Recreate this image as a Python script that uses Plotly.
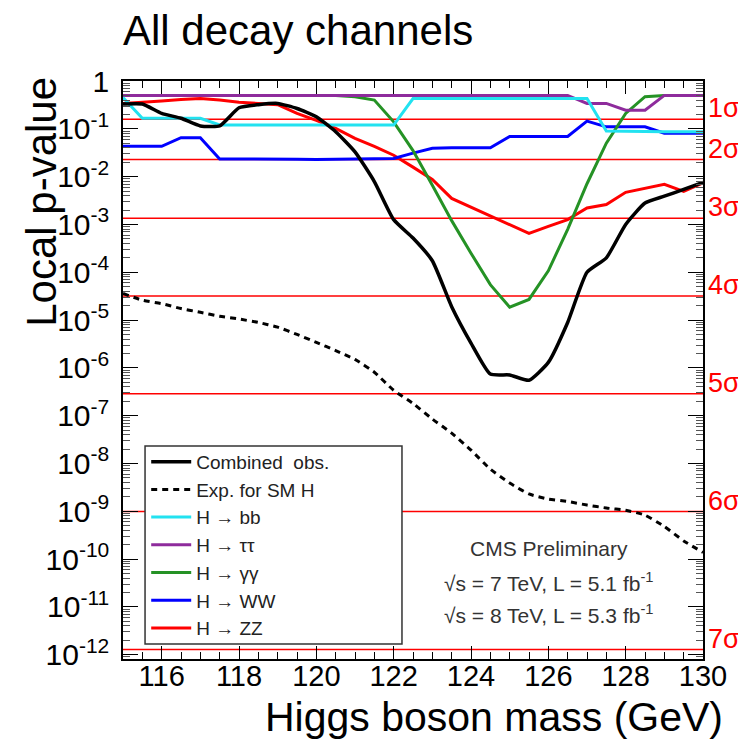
import plotly.graph_objects as go
import numpy as np

mass = [115.0, 115.5, 116.0, 116.5, 117.0, 117.5, 118.0, 118.5, 119.0, 119.5,
        120.0, 120.5, 121.0, 121.5, 122.0, 122.5, 123.0, 123.5, 124.0, 124.5,
        125.0, 125.5, 126.0, 126.5, 127.0, 127.5, 128.0, 128.5, 129.0, 129.5, 130.0]

p_comb = [0.33, 0.33, 0.21, 0.166, 0.115, 0.115, 0.275, 0.32, 0.34, 0.266,
          0.178, 0.087, 0.033, 7.9e-3, 1.26e-3, 5.2e-4, 1.74e-4, 1.9e-5, 3.3e-6, 7.4e-7,
          7.1e-7, 5.5e-7, 1.3e-6, 8.9e-6, 1.0e-4, 2.0e-4, 1.0e-3, 2.8e-3, 3.9e-3, 5.4e-3, 7.6e-3]

p_exp = [3.6e-5, 2.6e-5, 2.2e-5, 1.74e-5, 1.45e-5, 1.2e-5, 1.05e-5, 8.9e-6, 7.1e-6, 5.0e-6,
         3.4e-6, 2.3e-6, 1.5e-6, 8.1e-7, 3.4e-7, 1.8e-7, 8.5e-8, 4.3e-8, 1.9e-8, 7.6e-9,
         3.9e-9, 2.3e-9, 1.8e-9, 1.6e-9, 1.35e-9, 1.17e-9, 1.05e-9, 8.3e-10, 4.8e-10, 2.4e-10, 1.38e-10]

p_bb = [0.45, 0.166, 0.166, 0.166, 0.166, 0.12, 0.12, 0.12, 0.12, 0.12,
        0.12, 0.12, 0.12, 0.12, 0.12, 0.43, 0.43, 0.43, 0.43, 0.43,
        0.43, 0.43, 0.43, 0.43, 0.43, 0.09, 0.088, 0.088, 0.087, 0.087, 0.087]

p_tautau = [0.5, 0.5, 0.5, 0.5, 0.5, 0.5, 0.5, 0.5, 0.5, 0.5,
            0.5, 0.5, 0.5, 0.5, 0.5, 0.5, 0.5, 0.5, 0.5, 0.5,
            0.5, 0.5, 0.5, 0.5, 0.34, 0.34, 0.245, 0.245, 0.5, 0.5, 0.5]

p_gg = [0.5, 0.5, 0.5, 0.5, 0.5, 0.5, 0.5, 0.5, 0.5, 0.5,
        0.5, 0.5, 0.47, 0.40, 0.14, 0.035, 6.6e-3, 1.2e-3, 2.5e-4, 5.5e-5,
        1.86e-5, 2.7e-5, 1.07e-4, 7.9e-4, 7.1e-3, 0.05, 0.21, 0.47, 0.5, 0.5, 0.5]

p_ww = [0.043, 0.043, 0.043, 0.065, 0.065, 0.0234, 0.0234, 0.024, 0.024, 0.0232,
        0.0228, 0.0232, 0.0235, 0.0235, 0.024, 0.031, 0.039, 0.04, 0.04, 0.04,
        0.069, 0.069, 0.069, 0.069, 0.145, 0.11, 0.11, 0.11, 0.081, 0.081, 0.081]

p_zz = [0.34, 0.355, 0.38, 0.41, 0.43, 0.40, 0.36, 0.34, 0.32, 0.21,
        0.15, 0.102, 0.063, 0.043, 0.028, 0.0158, 8.7e-3, 3.5e-3, 2.3e-3, 1.48e-3,
        1.0e-3, 6.5e-4, 9.1e-4, 1.26e-3, 2.2e-3, 2.6e-3, 4.7e-3, 5.8e-3, 6.9e-3, 4.9e-3, 7.4e-3]

sigma_labels = ["1σ", "2σ", "3σ", "4σ", "5σ", "6σ", "7σ"]
sigma_p = [0.1587, 0.02275, 1.35e-3, 3.167e-5, 2.867e-7, 9.866e-10, 1.28e-12]

decades = [0, -1, -2, -3, -4, -5, -6, -7, -8, -9, -10, -11, -12]
decade_text = ["1"] + ["10<sup>%d</sup>" % d for d in decades[1:]]

font = "Liberation Sans, Arial, sans-serif"

fig = go.Figure()

# sigma reference lines
for p in sigma_p:
    fig.add_trace(go.Scatter(x=[mass[0], mass[-1]], y=[p, p], mode="lines",
                             line=dict(color="#ff0000", width=1.5),
                             showlegend=False, hoverinfo="skip"))

channels = [
    ("H → ZZ", p_zz, "#ff0000", 7),
    ("H → WW", p_ww, "#0000ff", 6),
    ("H → γγ", p_gg, "#259225", 5),
    ("H → ττ", p_tautau, "#8e2b9c", 4),
    ("H → bb", p_bb, "#22e2f0", 3),
]
for name, vals, col, rank in channels:
    fig.add_trace(go.Scatter(x=mass, y=vals, mode="lines", name=name,
                             line=dict(color=col, width=3), legendrank=rank))

fig.add_trace(go.Scatter(x=mass, y=p_exp, mode="lines", name="Exp. for SM H",
                         line=dict(color="black", width=3, dash="6px,5px",
                                   shape="spline", smoothing=0.5),
                         legendrank=2))
fig.add_trace(go.Scatter(x=mass, y=p_comb, mode="lines", name="Combined  obs.",
                         line=dict(color="black", width=3.5, shape="spline", smoothing=0.5),
                         legendrank=1))

annotations = []
for lab, p in zip(sigma_labels, sigma_p):
    annotations.append(dict(x=1, xref="paper", xanchor="left", xshift=3,
                            y=np.log10(p), yref="y", yanchor="middle", yshift=11,
                            text=lab, showarrow=False,
                            font=dict(family=font, size=27, color="#ff0000")))

for txt, yy in [("CMS Preliminary", 0.192),
                ("√s = 7 TeV, L = 5.1 fb<sup>-1</sup>", 0.133),
                ("√s = 8 TeV, L = 5.3 fb<sup>-1</sup>", 0.078)]:
    annotations.append(dict(x=0.734, xref="paper", xanchor="center",
                            y=yy, yref="paper", yanchor="middle",
                            text=txt, showarrow=False,
                            font=dict(family=font, size=21, color="#333333")))

annotations.append(dict(x=-0.14, xref="paper", xanchor="center",
                        y=1.0104, yref="paper", yanchor="top", textangle=-90,
                        text="Local p-value", showarrow=False,
                        font=dict(family=font, size=42, color="black")))
annotations.append(dict(x=1.038, xref="paper", xanchor="right",
                        y=-0.101, yref="paper", yanchor="middle",
                        text="Higgs boson mass (GeV)", showarrow=False,
                        font=dict(family=font, size=41, color="black")))

minor_y = [k * 10.0 ** e for e in range(-13, 0) for k in range(2, 10)]

fig.update_layout(
    width=738, height=731,
    margin=dict(l=115, r=43, t=73, b=80),
    paper_bgcolor="white", plot_bgcolor="white",
    title=dict(text="All decay channels", x=115 / 738, xref="container", xanchor="left",
               y=1 - 22 / 731, yref="container", yanchor="middle",
               font=dict(family=font, size=42, color="black")),
    showlegend=True,
    legend=dict(x=0.04, xanchor="left", y=0.374, yanchor="top",
                bgcolor="rgba(0,0,0,0)", borderwidth=0,
                font=dict(family=font, size=19, color="#222222"),
                itemwidth=40, tracegroupgap=0),
    shapes=[dict(type="rect", xref="paper", yref="paper", x0=0.038, x1=0.481,
                 y0=0.026, y1=0.3685, fillcolor="white",
                 line=dict(color="#333333", width=1.5), layer="above")],
    annotations=annotations,
    xaxis=dict(range=[115, 130], tick0=116, dtick=2, ticks="inside", ticklen=13,
               tickcolor="black", showline=True, linecolor="black", linewidth=1.5,
               mirror="allticks", showgrid=False, zeroline=False, ticklabelstandoff=-10,
               tickfont=dict(family=font, size=29, color="black"),
               minor=dict(dtick=0.5, ticks="inside", ticklen=7, tickcolor="black",
                          showgrid=False)),
    yaxis=dict(type="log", range=[-12.09, 0], tickmode="array",
               tickvals=[10.0 ** d for d in decades], ticktext=decade_text,
               ticks="inside", ticklen=15, tickcolor="black", showline=True,
               linecolor="black", linewidth=1.5, mirror="allticks", showgrid=False,
               zeroline=False, ticklabelstandoff=6,
               tickfont=dict(family=font, size=30, color="black"),
               minor=dict(tickmode="array", tickvals=minor_y, ticks="inside", ticklen=7,
                          tickcolor="#555555", showgrid=False)),
)

fig.write_html("out.html")
